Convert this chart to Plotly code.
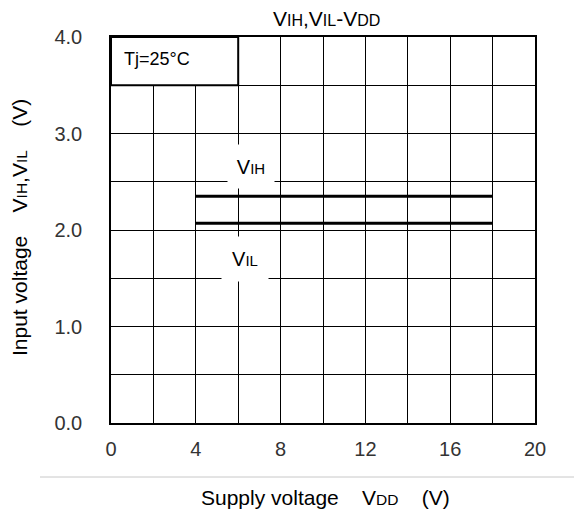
import plotly.graph_objects as go

# Data
vdd = [4, 18]
vih = [2.35, 2.35]
vil = [2.07, 2.07]
x_ticks = [0, 4, 8, 12, 16, 20]
y_ticks = [0.0, 1.0, 2.0, 3.0, 4.0]
y_tick_labels = ["0.0", "1.0", "2.0", "3.0", "4.0"]

FONT = "Liberation Sans, Arial, sans-serif"
W, H = 574, 515
L, R, T, B = 111, 39, 37, 92
pw, ph = W - L - R, H - T - B


def sub(s, size=15.5):
    return "<span style='font-size:%spx'>%s</span>" % (size, s)


def px(x, y):
    """pixel (from top-left) -> paper coords"""
    return (x - L) / pw, (H - y - B) / ph


fig = go.Figure()
fig.add_trace(go.Scatter(x=vdd, y=vih, mode="lines", line=dict(color="black", width=3),
                         showlegend=False, hoverinfo="skip"))
fig.add_trace(go.Scatter(x=vdd, y=vil, mode="lines", line=dict(color="black", width=3),
                         showlegend=False, hoverinfo="skip"))

axis_common = dict(showgrid=True, gridcolor="black", gridwidth=1,
                   showline=True, linecolor="black", linewidth=1.5, mirror=True,
                   zeroline=False, ticks="",
                   tickfont=dict(family=FONT, size=20, color="#333333"))

fig.update_layout(
    width=W, height=H,
    margin=dict(l=L, r=R, t=T, b=B),
    paper_bgcolor="white", plot_bgcolor="white",
    font=dict(family=FONT, size=20, color="black"),
    xaxis=dict(range=[0, 20], tickvals=x_ticks, ticklabelstandoff=7,
               minor=dict(dtick=2, showgrid=True, gridcolor="black", gridwidth=1),
               **axis_common),
    yaxis=dict(range=[0, 4], tickvals=y_ticks, ticktext=y_tick_labels, ticklabelstandoff=23,
               minor=dict(dtick=0.5, showgrid=True, gridcolor="black", gridwidth=1),
               **axis_common),
)

# Tj box
fig.add_shape(type="rect", xref="x", yref="y", x0=0, x1=6, y0=3.5, y1=4,
              fillcolor="white", line=dict(color="black", width=2), layer="above")
fig.add_annotation(x=0.5, y=3.77, xref="x", yref="y", text="Tj=25°C", showarrow=False,
                   xanchor="left", yanchor="middle", font=dict(size=18, color="black"))

# Curve labels with white backgrounds
fig.add_annotation(x=6.6, y=2.66, xref="x", yref="y", text="V" + sub("IH", 15),
                   showarrow=False, bgcolor="white", width=44, height=41,
                   xanchor="center", yanchor="middle",
                   font=dict(size=20, color="black"))
fig.add_annotation(x=6.3, y=1.70, xref="x", yref="y", text="V" + sub("IL", 15),
                   showarrow=False, bgcolor="white", width=44, height=42,
                   xanchor="center", yanchor="middle",
                   font=dict(size=20, color="black"))

# Title
tx, ty = px(326, 18)
fig.add_annotation(x=tx, y=ty, xref="paper", yref="paper", showarrow=False,
                   xanchor="center", yanchor="middle",
                   text="V" + sub("IH", 16) + ",V" + sub("IL", 16) + "-V" + sub("DD", 16),
                   font=dict(size=21, color="black"))
# Axis titles
yx, yy = px(19, 228)
fig.add_annotation(x=yx, y=yy, xref="paper", yref="paper", showarrow=False, textangle=-90,
                   xanchor="center", yanchor="middle",
                   text="Input voltage    V" + sub("IH") + ",V" + sub("IL") + "    (V)",
                   font=dict(size=21, color="black"))
xx, xy = px(325, 497)
fig.add_annotation(x=xx, y=xy, xref="paper", yref="paper", showarrow=False,
                   xanchor="center", yanchor="middle",
                   text="Supply voltage    V" + sub("DD") + "    (V)",
                   font=dict(size=21, color="black"))

# separator line near the bottom
x0, y0 = px(40, 477)
x1, _ = px(574, 477)
fig.add_shape(type="line", xref="paper", yref="paper", x0=x0, x1=x1, y0=y0, y1=y0,
              line=dict(color="#c8c8c8", width=1))

fig.write_html("out.html")
